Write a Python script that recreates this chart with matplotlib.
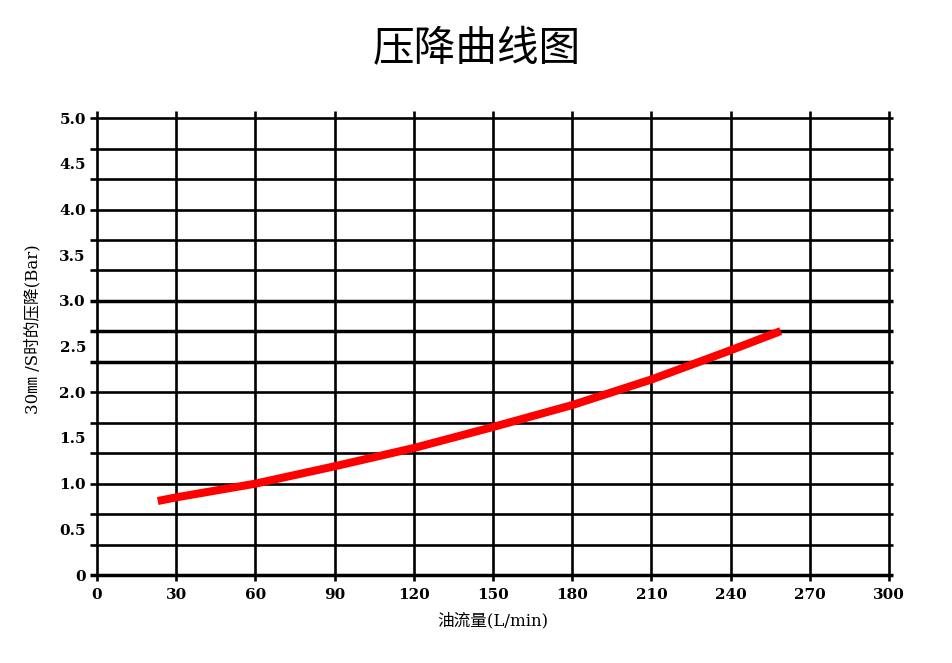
import matplotlib.pyplot as plt
import numpy as np

plt.rcParams['font.family'] = ['DejaVu Serif', 'Noto Sans CJK SC']

# flow (L/min) vs pressure drop (Bar)
flow = [23, 30, 60, 90, 120, 150, 180, 210, 240, 259]
drop = [0.81, 0.85, 1.0, 1.19, 1.39, 1.62, 1.86, 2.14, 2.46, 2.67]

x_ticks = [0, 30, 60, 90, 120, 150, 180, 210, 240, 270, 300]
y_ticks = [0, 0.5, 1.0, 1.5, 2.0, 2.5, 3.0, 3.5, 4.0, 4.5, 5.0]
y_labels = ['0', '0.5', '1.0', '1.5', '2.0', '2.5', '3.0', '3.5', '4.0', '4.5', '5.0']
h_grid = [i / 3 for i in range(16)]
thick_rows = [7, 8, 9]

fig = plt.figure(figsize=(9.53, 6.63), dpi=100)
ax = fig.add_axes([0.1018, 0.1327, 0.831, 0.689])
ax.set_xlim(0, 300)
ax.set_ylim(0, 5)
for s in ax.spines.values():
    s.set_visible(False)

# horizontal grid, sticking out a bit on both sides
for i, g in enumerate(h_grid):
    lw = 2.5 if (i in thick_rows or i == 0) else 1.9
    ax.plot([-2.6, 301.6], [g, g], color='black', lw=lw, clip_on=False,
            solid_capstyle='butt', zorder=1)

# vertical grid
for xv in x_ticks:
    ax.plot([xv, xv], [-0.06, 5.08], color='black', lw=1.9, clip_on=False,
            solid_capstyle='butt', zorder=1)

ax.plot(flow, drop, color='#ff0000', lw=5.8, solid_capstyle='butt', zorder=3)

ax.set_xticks(x_ticks)
ax.set_xticklabels([str(v) for v in x_ticks], fontweight='bold')
ax.set_yticks(y_ticks)
ax.set_yticklabels(y_labels, fontweight='bold')
ax.tick_params(length=0, labelsize=11)
ax.tick_params(axis='x', pad=9)
ax.tick_params(axis='y', pad=8)

ax.set_xlabel('油流量(L/min)', fontsize=12, labelpad=8)
ax.set_ylabel('30㎜ /S时的压降(Bar)', fontsize=12)
ax.yaxis.set_label_coords(-0.07, 0.538)
fig.text(0.5, 0.925, '压降曲线图', ha='center', va='center', fontsize=30)

fig.savefig('out.png', dpi=100)
